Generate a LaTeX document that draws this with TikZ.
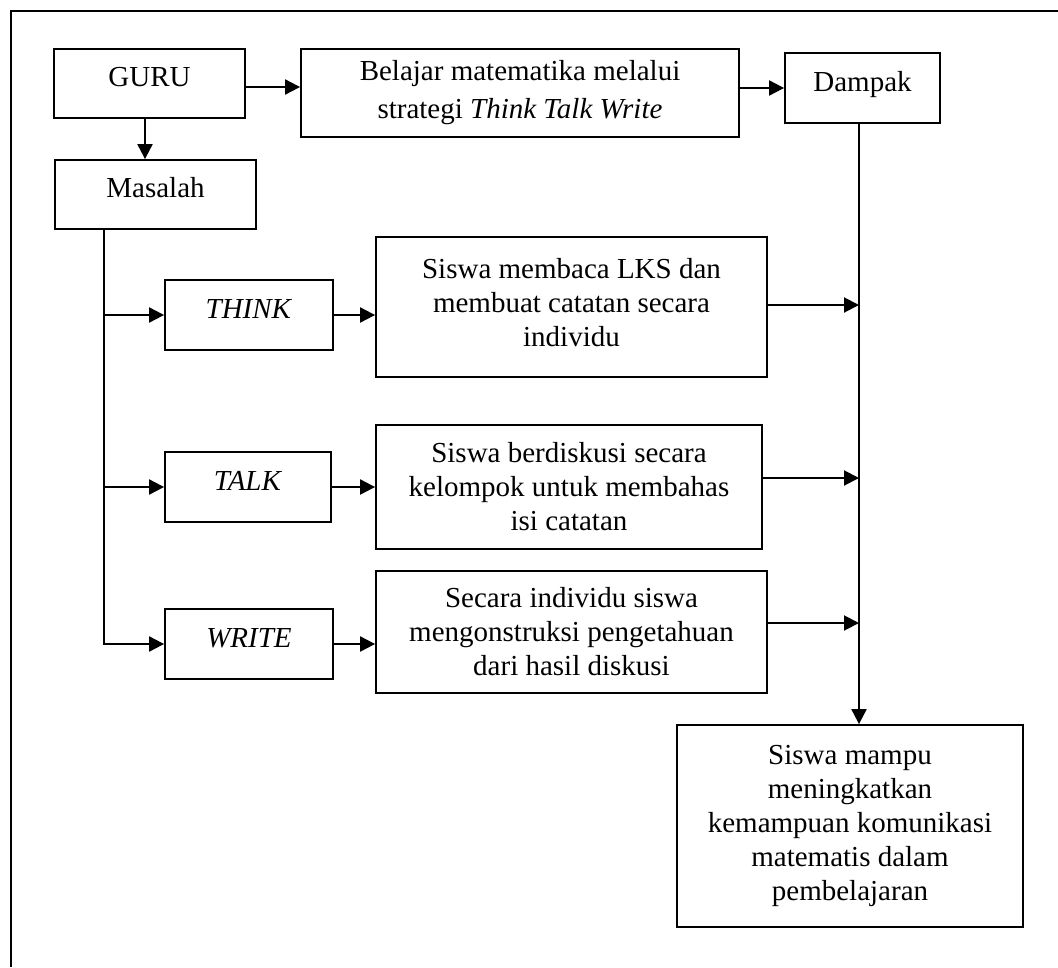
\documentclass[tikz,border=0pt]{standalone}
\usepackage{fontspec}
\setmainfont{Liberation Serif}
\usetikzlibrary{arrows.meta}
\begin{document}
\begin{tikzpicture}[x=1pt,y=-1pt,
  font=\fontsize{29}{34}\selectfont,
  box/.style={draw, line width=1.8pt, inner sep=0pt, align=center},
  one/.style={text height=20pt, text depth=14pt},
  arr/.style={line width=2pt, -{Triangle[length=15pt,width=15pt]}},
  ln/.style={line width=2pt}]
\useasboundingbox (0,0) rectangle (1058,967);
% frame
\draw[line width=2.2pt] (11,967) -- (11,11) -- (1058,11);
% nodes
\node[box,one,minimum width=191pt,minimum height=69pt] (GURU) at (149.5,83.5) {GURU};
\node[box,one,minimum width=201pt,minimum height=69pt] (Masalah) at (155.5,194.5) {Masalah};
\node[box,minimum width=438pt,minimum height=88pt,font=\fontsize{29}{38}\selectfont] (Belajar) at (520,93) {Belajar matematika melalui\\strategi \textit{Think Talk Write}};
\node[box,one,minimum width=155pt,minimum height=70pt] (Dampak) at (862.5,88) {Dampak};
\node[box,one,minimum width=168pt,minimum height=70pt] (THINK) at (249,315) {\textit{THINK}};
\node[box,one,minimum width=166pt,minimum height=70pt] (TALK) at (248,487) {\textit{TALK}};
\node[box,one,minimum width=168pt,minimum height=70pt] (WRITE) at (249,644) {\textit{WRITE}};
\node[box,minimum width=391pt,minimum height=140pt] (dThink) at (571.5,307) {Siswa membaca LKS dan\\membuat catatan secara\\individu\rule[-10pt]{0pt}{0pt}};
\node[box,minimum width=386pt,minimum height=124pt] (dTalk) at (569,487) {Siswa berdiskusi secara\\kelompok untuk membahas\\isi catatan};
\node[box,minimum width=391pt,minimum height=122pt] (dWrite) at (571.5,632) {Secara individu siswa\\mengonstruksi pengetahuan\\dari hasil diskusi};
\node[box,minimum width=346pt,minimum height=202pt] (Final) at (850,826) {Siswa mampu\\meningkatkan\\kemampuan komunikasi\\matematis dalam\\pembelajaran};
% helper coordinates
\coordinate (g1) at ([yshift=-3.5pt]GURU.east);
\coordinate (g2) at ([xshift=-4.5pt]GURU.south);
\coordinate (sp) at ([xshift=-51.5pt]Masalah.south);
\coordinate (vl) at (859,0);
\coordinate (o1) at ([yshift=2pt]dThink.east);
\coordinate (o2) at ([yshift=9pt]dTalk.east);
\coordinate (o3) at ([yshift=9pt]dWrite.east);
% connectors
\draw[arr] (g1) -- (g1 -| Belajar.west);
\draw[arr] (Dampak.west -| Belajar.east) -- (Dampak.west);
\draw[arr] (g2) -- (g2 |- Masalah.north);
\draw[arr] (sp) -- (sp |- WRITE.west) -- (WRITE.west);
\draw[arr] (sp |- THINK.west) -- (THINK.west);
\draw[arr] (sp |- TALK.west) -- (TALK.west);
\draw[arr] (THINK.east) -- (THINK.east -| dThink.west);
\draw[arr] (TALK.east) -- (TALK.east -| dTalk.west);
\draw[arr] (WRITE.east) -- (WRITE.east -| dWrite.west);
\draw[arr] (o1) -- (o1 -| vl);
\draw[arr] (o2) -- (o2 -| vl);
\draw[arr] (o3) -- (o3 -| vl);
\draw[arr] (Dampak.south -| vl) -- (Final.north -| vl);
\end{tikzpicture}
\end{document}
